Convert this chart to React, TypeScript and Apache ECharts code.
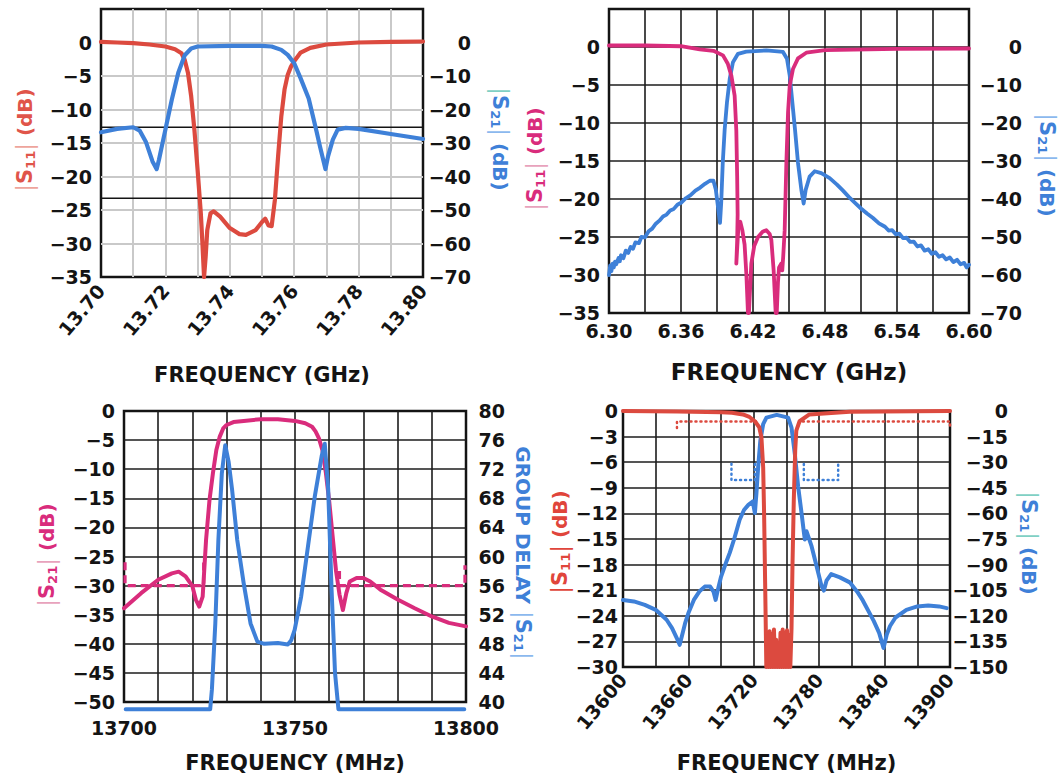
import React, { useEffect, useRef } from "react";
import * as echarts from "echarts";

type P = [number, number];

const FONT = "DejaVu Sans";
const INK = "#141414";
const RED = "#dc4a3f";
const MAGENTA = "#d92c7c";
const BLUE = "#3e80d8";
const GRID_GRAY = "#c9c9c9";
const GRID_BLACK = "#1c1c1c";

// ---------- Panel 1 (top-left): 13.70–13.80 GHz ----------
const p1S11: P[] = [
  [13.700, 0.1], [13.705, 0], [13.710, -0.1], [13.715, -0.3], [13.720, -0.6], [13.723, -1.0],
  [13.725, -1.6], [13.726, -2.6], [13.727, -4.5], [13.728, -8], [13.729, -13], [13.730, -19],
  [13.731, -25.5], [13.7315, -30], [13.732, -35], [13.7325, -32], [13.733, -28], [13.734, -25.5],
  [13.735, -25.2], [13.737, -26], [13.740, -27.7], [13.743, -28.6], [13.745, -28.7], [13.748, -28],
  [13.750, -26.8], [13.751, -26.3], [13.752, -27.3], [13.753, -27.4], [13.754, -23.5], [13.755, -17],
  [13.756, -11], [13.757, -7], [13.758, -4.8], [13.759, -3.6], [13.760, -2.8], [13.762, -1.5],
  [13.765, -0.8], [13.770, -0.3], [13.780, 0], [13.790, 0.1], [13.800, 0.15],
];
const p1S21: P[] = [
  [13.700, -26.8], [13.705, -25.8], [13.710, -25.3], [13.712, -26.3], [13.714, -29.8], [13.716, -35.5],
  [13.7173, -37.8], [13.718, -35], [13.719, -30.5], [13.720, -26], [13.722, -17], [13.724, -9],
  [13.726, -3.8], [13.728, -1.8], [13.730, -1.2], [13.740, -1.0], [13.750, -1.0], [13.753, -1.2],
  [13.756, -2.2], [13.758, -3.7], [13.760, -6.2], [13.762, -10.7], [13.7645, -16.7], [13.767, -26.8],
  [13.768, -31], [13.7697, -37.8], [13.7705, -34], [13.772, -29], [13.7735, -26], [13.776, -25.5],
  [13.780, -25.8], [13.790, -27.3], [13.800, -28.8],
];
const p1SpecA: P[] = [[13.70, -12.65], [13.80, -12.65]];
const p1SpecB: P[] = [[13.70, -23.25], [13.80, -23.25]];

// ---------- Panel 2 (top-right): 6.30–6.60 GHz ----------
const p2S11: P[] = [
  [6.300, 0.2], [6.330, 0.2], [6.360, 0.1], [6.3756, -0.3], [6.387, -0.5], [6.395, -1.1], [6.399, -2.2],
  [6.402, -3.8], [6.4047, -6.4], [6.4061, -11], [6.4068, -17], [6.4072, -22], [6.4068, -25.5],
  [6.4061, -28.5], [6.4080, -23.2], [6.4094, -23], [6.4111, -24.1], [6.4130, -26], [6.4145, -30],
  [6.4158, -35], [6.4166, -35], [6.4172, -33], [6.4186, -28.5], [6.4210, -26.2], [6.4242, -25],
  [6.4280, -24.3], [6.4311, -24.1], [6.4339, -24.6], [6.4353, -25.4], [6.4372, -29.4], [6.4389, -35],
  [6.4398, -35], [6.4408, -31], [6.4417, -29], [6.4436, -28.5], [6.4444, -29.4], [6.4452, -27.5],
  [6.4464, -24.1], [6.4478, -15.3], [6.4492, -8.6], [6.4506, -5.1], [6.4533, -2.9], [6.4575, -1.5],
  [6.4644, -0.75], [6.480, -0.4], [6.540, -0.25], [6.600, -0.2],
];
const p2S21: P[] = [
  [6.300, -60], [6.301, -57.5], [6.302, -59], [6.303, -57], [6.304, -58], [6.305, -56.5], [6.306, -57.2],
  [6.308, -55.5], [6.309, -56.4], [6.310, -54.8], [6.312, -55.6], [6.314, -53.6], [6.316, -54.2],
  [6.318, -52.6], [6.320, -53.1], [6.322, -51.4], [6.325, -51.6], [6.327, -50], [6.330, -50.1],
  [6.333, -48.5], [6.336, -47.8], [6.339, -46.5], [6.342, -45.7], [6.345, -44.6], [6.348, -44.1],
  [6.351, -43], [6.354, -42.6], [6.357, -41.5], [6.360, -41], [6.364, -39.8], [6.368, -39], [6.372, -37.8],
  [6.376, -37], [6.380, -36], [6.384, -35.2], [6.387, -35.2], [6.389, -37.5], [6.391, -42.5],
  [6.3925, -46.3], [6.3935, -41], [6.3948, -30.5], [6.3964, -21.7], [6.3983, -14.6], [6.4006, -8.4],
  [6.4033, -4], [6.4075, -1.8], [6.4144, -1.2], [6.4311, -0.9], [6.445, -1.3], [6.4483, -3.1],
  [6.4506, -7.5], [6.4528, -14.6], [6.455, -21.7], [6.4575, -30.5], [6.4603, -37.6], [6.4622, -41.2],
  [6.4639, -37.6], [6.4672, -34.1], [6.4714, -32.7], [6.4769, -33.2], [6.4839, -34.5], [6.490, -36.2],
  [6.495, -37.8], [6.500, -39.5], [6.505, -41], [6.510, -42.5], [6.515, -43.8], [6.520, -45],
  [6.525, -46.4], [6.530, -47.3], [6.533, -48.3], [6.536, -48.2], [6.539, -49.3], [6.542, -49.1],
  [6.545, -50.3], [6.548, -50.2], [6.551, -51.3], [6.554, -51.2], [6.557, -52.5], [6.560, -52.2],
  [6.563, -53.6], [6.566, -53.2], [6.569, -54.4], [6.572, -54], [6.575, -55.2], [6.578, -54.8],
  [6.581, -55.9], [6.584, -55.4], [6.587, -56.6], [6.590, -56], [6.593, -57.2], [6.596, -56.8],
  [6.598, -58], [6.600, -57.3],
];

// ---------- Panel 3 (bottom-left): 13700–13800 MHz ----------
const p3S21: P[] = [
  [13700, -33.9], [13705, -31.3], [13710, -29], [13714, -27.9], [13716, -27.6], [13718, -28.4],
  [13720, -30.1], [13721, -32.4], [13722, -33.6], [13723, -31.9], [13724, -22.1], [13725, -15.3],
  [13726, -10.7], [13727, -6.7], [13728, -4.4], [13729, -3.0], [13730, -2.4], [13732, -1.9],
  [13735, -1.7], [13740, -1.4], [13745, -1.4], [13750, -1.7], [13753, -2.1], [13755, -2.7],
  [13756, -3.5], [13757, -4.7], [13758, -6.7], [13759, -10.5], [13760, -15.5], [13761, -21.5],
  [13762, -27.5], [13763, -31.5], [13764, -34.2], [13765, -31.3], [13766, -29.3], [13768, -28.7],
  [13770, -28.7], [13772, -29.3], [13775, -30.7], [13780, -32.4], [13785, -33.9], [13790, -35.3],
  [13795, -36.4], [13800, -37],
];
const p3Delay: P[] = [
  [13700.5, 39], [13725.2, 39], [13725.7, 41.7], [13726.7, 50.8], [13727.6, 62.3], [13728.6, 71.4],
  [13729.6, 75.3], [13730.6, 73], [13731.6, 69.2], [13733.1, 62.3], [13735, 56.3], [13737, 50.8],
  [13739, 48.3], [13741, 48], [13745, 48.1], [13747.9, 47.9], [13748.9, 48.5], [13749.9, 49.9],
  [13751.8, 54.5], [13753.8, 61.4], [13755.8, 68.3], [13757.8, 73.8], [13758.7, 75.5], [13759.7, 69.3],
  [13760.7, 55.4], [13761.7, 44], [13762.7, 39], [13799.5, 39],
];
const p3SpecLow: P[] = [[13700.3, -26], [13700.3, -30], [13723.3, -30], [13723.3, -26]];
const p3SpecHigh: P[] = [[13763, -27.5], [13763, -30], [13799.7, -30], [13799.7, -26.5]];

// ---------- Panel 4 (bottom-right): 13600–13900 MHz ----------
const p4S11: P[] = [
  [13600, 0], [13650, -0.05], [13690, -0.15], [13700, -0.2], [13710, -0.4], [13716, -0.7], [13721, -1.2],
  [13725, -1.9], [13727, -3.1], [13728.6, -6.6], [13729.5, -12.4], [13730.4, -20.1], [13731, -25.5],
  [13731.5, -30], [13732.5, -26], [13733.5, -30], [13734.5, -25.8], [13735.5, -30], [13736.5, -26.2],
  [13737.5, -30], [13738.5, -25.6], [13739.5, -30], [13740.5, -26.8], [13741.5, -30], [13742.5, -27.2],
  [13743.5, -30], [13744.5, -26], [13745.5, -30], [13746.5, -25.6], [13747.5, -30], [13748.5, -26],
  [13749.5, -30], [13750.5, -25.7], [13751.5, -30], [13752.5, -26.3], [13753.5, -30], [13754.6, -25.5],
  [13755.5, -18], [13756.7, -10.4], [13758, -4.6], [13759, -2.3], [13762, -1.2], [13771, -0.4],
  [13808, -0.1], [13900, 0],
];
const p4S21: P[] = [
  [13600, -110.7], [13610, -111.6], [13620, -113.6], [13630, -116.5], [13640, -122.3], [13645, -127.2],
  [13650, -134], [13652, -137], [13654, -132], [13657, -124.3], [13660, -118.4], [13665, -110.7],
  [13670, -105.8], [13675, -102.9], [13680, -102.9], [13683, -105.8], [13685, -110.7], [13687, -104.8],
  [13690, -97], [13695, -88], [13698, -83], [13702, -75], [13707, -63.7], [13711, -58], [13715, -55],
  [13719, -53], [13721, -59.8], [13722.4, -48.3], [13724, -32.8], [13726, -17.4], [13728.6, -7.7],
  [13731.6, -3.9], [13741, -2.3], [13751.5, -3.9], [13754.6, -9.7], [13757.6, -25], [13760.7, -44.4],
  [13763.8, -59.8], [13766, -71.4], [13766.8, -75.3], [13768.4, -70.5], [13773, -79.2], [13777.5, -90.7],
  [13782, -102.3], [13784.3, -105.2], [13786.7, -99.4], [13791, -95.6], [13799, -97.5], [13808, -100.4],
  [13815, -106], [13820, -111], [13830, -123], [13835, -130], [13839, -138.9], [13842, -131],
  [13845, -126], [13850, -121], [13860, -116.5], [13870, -114.5], [13880, -114], [13890, -114.5],
  [13897, -115.5],
];
const p4S11SpecLow: P[] = [[13649.5, -2.0], [13649.5, -1.24], [13722, -1.24]];
const p4S11SpecHigh: P[] = [[13765, -1.24], [13900, -1.24], [13900, -1.9]];
const p4S21SpecLow: P[] = [[13699.5, -30.9], [13699.5, -40.5], [13721, -40.5], [13721, -31]];
const p4S21SpecHigh: P[] = [[13765.9, -31], [13765.9, -40.5], [13797.4, -40.5], [13797.4, -30.9]];

// ---------- helpers ----------
const minus = (v: number) => (v < 0 ? "\u2212" + Math.abs(v) : String(v));
const tickFont = { fontFamily: FONT, fontWeight: "bold" as const, fontSize: 19, color: INK };

function yAxis(gi: number, min: number, max: number, interval: number, side: "left" | "right", margin: number, opts: any = {}) {
  return {
    type: "value", gridIndex: gi, position: side, min, max, interval,
    axisLine: { show: false }, axisTick: { show: false },
    splitLine: side === "left"
      ? { show: true, showMinLine: false, showMaxLine: false, lineStyle: { color: opts.grid || GRID_BLACK, width: opts.gridW || 1.6 } }
      : { show: false },
    axisLabel: {
      ...tickFont, margin, align: "right",
      formatter: (v: number) => (opts.hideAbove !== undefined && v > opts.hideAbove ? "" : minus(v)),
    },
  };
}

function xAxis(gi: number, min: number, max: number, interval: number, labelEvery: number, decimals: number, name: string, nameGap: number, nameSize: number, labelOpts: any, gridColor = GRID_BLACK, gridW = 1.6) {
  return {
    type: "value", gridIndex: gi, min, max, interval,
    axisLine: { show: false }, axisTick: { show: false },
    splitLine: { show: true, showMinLine: false, showMaxLine: false, lineStyle: { color: gridColor, width: gridW } },
    axisLabel: {
      ...tickFont, ...labelOpts,
      formatter: (v: number) => {
        const k = Math.round((v - min) / interval);
        return k % labelEvery === 0 ? v.toFixed(decimals) : "";
      },
    },
    name, nameLocation: "middle", nameGap,
    nameTextStyle: { fontFamily: FONT, fontWeight: "bold", fontSize: nameSize, color: INK },
  };
}

function line(xi: number, yi: number, data: P[], color: string, width: number, extra: any = {}) {
  return {
    type: "line", xAxisIndex: xi, yAxisIndex: yi, data, showSymbol: false, symbol: "none",
    silent: true, animation: false,
    lineStyle: { color, width, type: extra.type || "solid", cap: extra.cap || "round", join: "round" },
    itemStyle: { color }, clip: extra.clip !== undefined ? extra.clip : true, z: extra.z || 2,
  };
}

function axisTitle(x: number, y: number, rot: number, text: string, color: string, barColors: string[]) {
  return {
    type: "text", x, y, rotation: rot, silent: true,
    style: {
      text, align: "center", verticalAlign: "middle", textAlign: "center", textVerticalAlign: "middle",
      fill: color, fontFamily: FONT, fontWeight: "bold", fontSize: 20,
      rich: {
        t: { fill: color, color, fontFamily: FONT, fontWeight: "bold", fontSize: 20 },
        s: { fill: color, color, fontFamily: FONT, fontWeight: "bold", fontSize: 21 },
        sub: { fill: color, color, fontFamily: FONT, fontWeight: "bold", fontSize: 13, verticalAlign: "bottom" },
        b1: { fill: barColors[0], color: barColors[0], fontFamily: FONT, fontWeight: "normal", fontSize: 23 },
        b2: { fill: barColors[1], color: barColors[1], fontFamily: FONT, fontWeight: "normal", fontSize: 23 },
      },
    },
  };
}

function buildOption() {
  return {
    animation: false,
    backgroundColor: "#ffffff",
    textStyle: { fontFamily: FONT },
    grid: [
      { left: 101, top: 9, width: 322, height: 268, show: true, borderColor: INK, borderWidth: 2.5, backgroundColor: "transparent" },
      { left: 609, top: 9, width: 360, height: 304, show: true, borderColor: INK, borderWidth: 2.5, backgroundColor: "transparent" },
      { left: 124, top: 411, width: 342, height: 291, show: true, borderColor: INK, borderWidth: 2.5, backgroundColor: "transparent" },
      { left: 623, top: 411, width: 327, height: 256, show: true, borderColor: INK, borderWidth: 2.5, backgroundColor: "transparent" },
    ],
    xAxis: [
      xAxis(0, 13.70, 13.80, 0.01, 2, 2, "FREQUENCY (GHz)", 87, 21, { rotate: 50, margin: 10 }, GRID_GRAY, 2),
      xAxis(1, 6.30, 6.60, 0.03, 2, 2, "FREQUENCY (GHz)", 47, 23, { margin: 8 }),
      xAxis(2, 13700, 13800, 10, 5, 0, "FREQUENCY (MHz)", 50, 21, { margin: 16 }),
      xAxis(3, 13600, 13900, 30, 2, 0, "FREQUENCY (MHz)", 85, 21, { rotate: 50, margin: 9 }),
    ],
    yAxis: [
      yAxis(0, -35, 5, 5, "left", 9, { hideAbove: 0, grid: GRID_GRAY, gridW: 2 }),
      yAxis(0, -70, 10, 10, "right", 48, { hideAbove: 0 }),
      yAxis(1, -35, 5, 5, "left", 9, { hideAbove: 0 }),
      yAxis(1, -70, 10, 10, "right", 53, { hideAbove: 0 }),
      yAxis(2, -50, 0, 5, "left", 9),
      yAxis(2, 40, 80, 4, "right", 39),
      yAxis(3, -30, 0, 3, "left", 5),
      yAxis(3, -150, 0, 15, "right", 58),
    ],
    series: [
      line(0, 0, p1SpecA, INK, 1.6, { z: 1 }),
      line(0, 0, p1SpecB, INK, 1.6, { z: 1 }),
      line(0, 0, p1S11, RED, 4.2),
      line(0, 1, p1S21, BLUE, 4.2, { z: 3 }),

      line(1, 3, p2S21, BLUE, 3.8),
      line(1, 2, p2S11, MAGENTA, 3.8, { z: 3 }),

      line(2, 4, p3SpecLow, MAGENTA, 3.2, { type: [8, 5], cap: "butt" }),
      line(2, 4, p3SpecHigh, MAGENTA, 3.2, { type: [8, 5], cap: "butt" }),
      line(2, 4, p3S21, MAGENTA, 4),
      line(2, 5, p3Delay, BLUE, 4, { clip: false, z: 3 }),

      line(3, 6, p4S11SpecLow, RED, 2.5, { type: [1, 4] }),
      line(3, 6, p4S11SpecHigh, RED, 2.5, { type: [1, 4] }),
      line(3, 7, p4S21SpecLow, BLUE, 2.5, { type: [1, 4] }),
      line(3, 7, p4S21SpecHigh, BLUE, 2.5, { type: [1, 4] }),
      line(3, 7, p4S21, BLUE, 4),
      line(3, 6, p4S11, RED, 4, { z: 3 }),
    ],
    graphic: [
      axisTitle(25, 140, Math.PI / 2, "{b1||}{s|S}{sub|11}{b1||}{t| (dB)}", "#e0554a", ["#eea49c", "#eea49c"]),
      axisTitle(500, 139, -Math.PI / 2, "{b1||}{s|S}{sub|21}{b2||}{t| (dB)}", BLUE, ["#7fd0c4", "#8bb8ee"]),
      axisTitle(535, 159, Math.PI / 2, "{b1||}{s|S}{sub|11}{b1||}{t| (dB)}", MAGENTA, ["#e8a2bc", "#e8a2bc"]),
      axisTitle(1047, 165, -Math.PI / 2, "{b1||}{s|S}{sub|21}{b1||}{t| (dB)}", BLUE, ["#8bb8ee", "#8bb8ee"]),
      axisTitle(47, 555, Math.PI / 2, "{b1||}{s|S}{sub|21}{b1||}{t| (dB)}", MAGENTA, ["#e8a2bc", "#e8a2bc"]),
      axisTitle(523, 553, -Math.PI / 2, "{t|GROUP DELAY }{b1||}{s|S}{sub|21}{b1||}", BLUE, ["#8bb8ee", "#8bb8ee"]),
      axisTitle(560, 542, Math.PI / 2, "{b1||}{s|S}{sub|11}{b1||}{t| (dB)}", "#e0453b", ["#e0453b", "#e0453b"]),
      axisTitle(1029, 543, -Math.PI / 2, "{b1||}{s|S}{sub|21}{b1||}{t| (dB)}", BLUE, ["#7fd0c4", "#7fd0c4"]),
    ],
  };
}

export default function App() {
  const ref = useRef<HTMLDivElement>(null);
  useEffect(() => {
    if (!ref.current) return;
    const chart = echarts.init(ref.current, undefined, { renderer: "svg" });
    chart.setOption(buildOption() as any);
    return () => chart.dispose();
  }, []);
  return (
    <div
      ref={ref}
      style={{ position: "fixed", left: 0, top: 0, width: 1062, height: 779, background: "#fff" }}
    />
  );
}
